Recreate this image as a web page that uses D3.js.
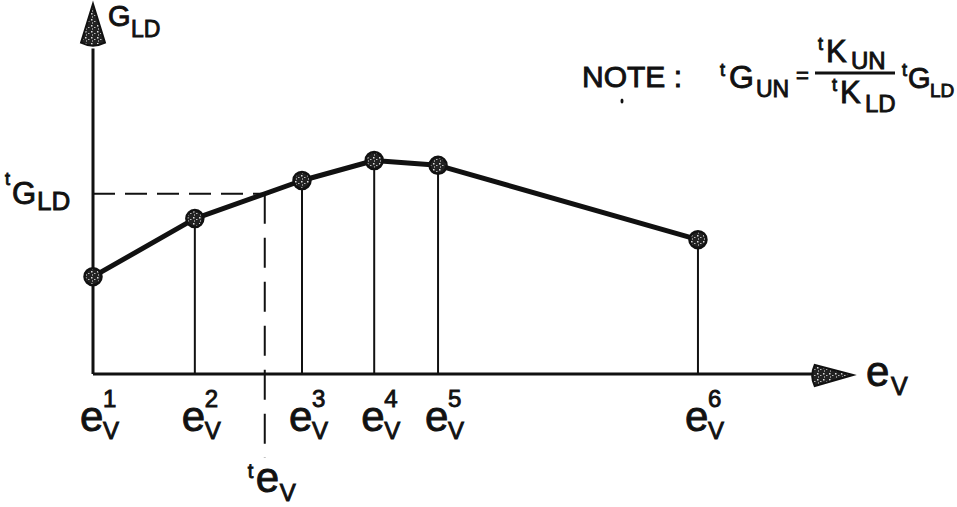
<!DOCTYPE html>
<html>
<head>
<meta charset="utf-8">
<script src="https://cdn.jsdelivr.net/npm/d3@7"></script>
<style>
  body { margin: 0; background: #fff; }
  svg { display: block; }
  text { font-family: "Liberation Sans", Arial, sans-serif; fill: #111; stroke: #111; stroke-width: 0.9; }
</style>
</head>
<body>
<svg id="chart" width="957" height="507"></svg>
<script>
// Station superscripts and the (e_V, G_LD) value at each station
const stations = ["1", "2", "3", "4", "5", "6"];
const evValues = [0, 13.4, 27.5, 37.0, 45.4, 79.6];
const gldValues = [26.3, 42.0, 52.3, 57.7, 56.4, 36.3];
// Interpolation point: tE_V and the resulting tG_LD
const tEv = [22.6];
const tGld = [48.7];

const svg = d3.select("#chart");
const x = d3.scaleLinear().domain([0, 100]).range([93, 853]);
const y = d3.scaleLinear().domain([0, 100]).range([374, 4]);

// speckled fill used for the markers and arrowheads
const defs = svg.append("defs");
const pat = defs.append("pattern").attr("id", "speckle")
  .attr("patternUnits", "userSpaceOnUse").attr("width", 6).attr("height", 6);
pat.append("rect").attr("width", 6).attr("height", 6).attr("fill", "#222");
pat.append("rect").attr("x", 1).attr("y", 1).attr("width", 1.5).attr("height", 1.5).attr("fill", "#ddd");
pat.append("rect").attr("x", 4).attr("y", 3).attr("width", 1.5).attr("height", 1).attr("fill", "#bbb");
pat.append("rect").attr("x", 2).attr("y", 4.5).attr("width", 1).attr("height", 1).attr("fill", "#eee");

const pts = evValues.map((e, i) => ({ e, g: gldValues[i], s: stations[i] }));

// axes
const x0 = x(0), y0 = y(0);
svg.append("line").attr("x1", x0).attr("x2", x0).attr("y1", y0).attr("y2", y(88))
  .attr("stroke", "#111").attr("stroke-width", 3);
svg.append("line").attr("x1", x0).attr("x2", x(94.7)).attr("y1", y0).attr("y2", y0)
  .attr("stroke", "#111").attr("stroke-width", 3);

// arrowheads
const yTip = y(100), yBase = y(89);
svg.append("path")
  .attr("d", `M${x0},${yTip} L${x0 + 12},${yBase - 2} Q${x0},${yBase + 4} ${x0 - 12},${yBase - 2} Z`)
  .attr("fill", "url(#speckle)").attr("stroke", "#111").attr("stroke-width", 2);
const xTip = x(100), xBase = x(94.7);
svg.append("path")
  .attr("d", `M${xTip},${y0 + 1} L${xBase + 2},${y0 - 9} Q${xBase - 3},${y0 + 2} ${xBase + 2},${y0 + 12} Z`)
  .attr("fill", "url(#speckle)").attr("stroke", "#111").attr("stroke-width", 2);

// drop lines from each station
svg.selectAll("line.drop").data(pts.slice(1)).join("line").attr("class", "drop")
  .attr("x1", d => x(d.e)).attr("x2", d => x(d.e))
  .attr("y1", d => y(d.g)).attr("y2", y0)
  .attr("stroke", "#111").attr("stroke-width", 2);

// dashed construction lines for the interpolated value
svg.append("line").attr("x1", x0).attr("x2", x(tEv[0])).attr("y1", y(tGld[0])).attr("y2", y(tGld[0]))
  .attr("stroke", "#111").attr("stroke-width", 2).attr("stroke-dasharray", "22,10");
svg.append("line").attr("x1", x(tEv[0])).attr("x2", x(tEv[0])).attr("y1", y(tGld[0])).attr("y2", 458)
  .attr("stroke", "#111").attr("stroke-width", 2).attr("stroke-dasharray", "30,14");

// curve
svg.append("path").datum(pts)
  .attr("d", d3.line().x(d => x(d.e)).y(d => y(d.g)))
  .attr("fill", "none").attr("stroke", "#111").attr("stroke-width", 5).attr("stroke-linejoin", "round");

svg.selectAll("circle.pt").data(pts).join("circle").attr("class", "pt")
  .attr("cx", d => x(d.e)).attr("cy", d => y(d.g)).attr("r", 8.5)
  .attr("fill", "url(#speckle)").attr("stroke", "#111").attr("stroke-width", 2.5);

// station labels e_V^n
const lab = svg.selectAll("g.lab").data(pts).join("g").attr("class", "lab")
  .attr("transform", d => `translate(${x(d.e)},0)`);
lab.append("text").attr("x", -13).attr("y", 431).attr("font-size", 42).text("e");
lab.append("text").attr("x", 10).attr("y", 407).attr("font-size", 24).text(d => d.s);
lab.append("text").attr("x", 10).attr("y", 439).attr("font-size", 24).text("V");

// tE_V label
const tg = svg.append("g").attr("transform", `translate(${x(tEv[0])},0)`);
tg.append("text").attr("x", -17).attr("y", 478).attr("font-size", 20).text("t");
tg.append("text").attr("x", -9).attr("y", 492).attr("font-size", 42).text("e");
tg.append("text").attr("x", 15).attr("y", 501).attr("font-size", 24).text("V");

// axis titles
svg.append("text").attr("x", 866).attr("y", 386).attr("font-size", 42).text("e");
svg.append("text").attr("x", 891).attr("y", 395).attr("font-size", 25).text("V");
svg.append("text").attr("x", 108).attr("y", 26).attr("font-size", 29).text("G");
svg.append("text").attr("x", 131).attr("y", 37).attr("font-size", 23).text("LD");

// tG_LD label on the vertical axis
const gy = y(tGld[0]);
svg.append("text").attr("x", 5).attr("y", gy - 9).attr("font-size", 18).text("t");
svg.append("text").attr("x", 12).attr("y", gy + 10).attr("font-size", 31).text("G");
svg.append("text").attr("x", 37).attr("y", gy + 16).attr("font-size", 26).text("LD");

// note with the conversion formula
const note = svg.append("g");
note.append("text").attr("x", 582).attr("y", 87).attr("font-size", 30).text("NOTE :");
note.append("text").attr("x", 720).attr("y", 76).attr("font-size", 18).text("t");
note.append("text").attr("x", 729).attr("y", 88).attr("font-size", 32).text("G");
note.append("text").attr("x", 756).attr("y", 97).attr("font-size", 23).text("UN");
note.append("text").attr("x", 796).attr("y", 83).attr("font-size", 22).text("=");
note.append("line").attr("x1", 815).attr("x2", 895).attr("y1", 73).attr("y2", 73)
  .attr("stroke", "#111").attr("stroke-width", 3);
note.append("text").attr("x", 818).attr("y", 50).attr("font-size", 18).text("t");
note.append("text").attr("x", 826).attr("y", 62).attr("font-size", 31).text("K");
note.append("text").attr("x", 851).attr("y", 69).attr("font-size", 24).text("UN");
note.append("text").attr("x", 832).attr("y", 91).attr("font-size", 18).text("t");
note.append("text").attr("x", 840).attr("y", 103).attr("font-size", 31).text("K");
note.append("text").attr("x", 865).attr("y", 112).attr("font-size", 24).text("LD");
note.append("text").attr("x", 902).attr("y", 76).attr("font-size", 18).text("t");
note.append("text").attr("x", 908).attr("y", 88).attr("font-size", 29).text("G");
note.append("text").attr("x", 930).attr("y", 97).attr("font-size", 19).text("LD");

// small mark below the note
svg.append("ellipse").attr("cx", 622).attr("cy", 101).attr("rx", 1.5).attr("ry", 2.5).attr("fill", "#111");
</script>
</body>
</html>
